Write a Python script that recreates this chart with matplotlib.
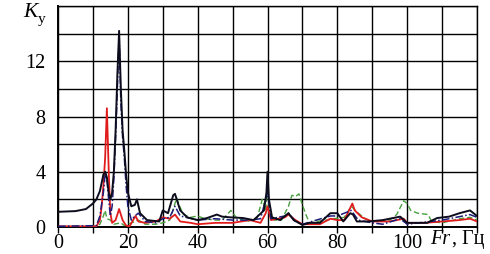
import matplotlib
matplotlib.use("Agg")
import matplotlib.pyplot as plt

# ---- data ----
black_f = [0, 5, 8, 9, 10, 11, 12, 12.5, 13, 13.5, 14, 14.5, 15, 15.5, 16, 16.5, 17, 17.5, 18, 18.5,
           19, 19.5, 20, 21, 22, 22.6, 23.5, 25.5, 29, 30, 31.5, 33, 33.5, 35, 37, 40, 42.7, 45.5, 47,
           49.3, 53, 56, 59, 59.7, 60, 60.4, 61.3, 63.6, 66, 67.5, 70, 72, 75, 78, 80, 81.7, 83.7,
           84.5, 85.6, 89, 93, 98, 100, 105.7, 108.6, 112, 115, 118, 119.5, 120]
black_k = [1.1, 1.15, 1.3, 1.5, 1.7, 2.0, 2.6, 3.2, 3.8, 4.0, 3.6, 2.5, 2.0, 2.5, 4.0, 7.0, 11.0, 14.2, 10.0, 7.0,
           5.5, 3.8, 2.5, 1.5, 1.6, 2.0, 1.0, 0.5, 0.4, 1.2, 1.0, 2.3, 2.4, 1.2, 0.7, 0.5, 0.65, 0.9, 0.75,
           0.7, 0.65, 0.5, 1.2, 2.5, 4.0, 2.0, 0.7, 0.5, 1.0, 0.5, 0.15, 0.3, 0.3, 1.0, 1.0, 0.4, 1.0,
           0.9, 0.4, 0.4, 0.5, 0.75, 0.3, 0.3, 0.65, 0.75, 1.0, 1.2, 0.9, 0.8]

blue_f = [0, 11, 12, 13, 13.5, 14, 14.5, 15, 15.5, 16, 16.5, 17, 17.5, 18, 18.5, 19, 19.5, 20, 21, 22, 23,
          25, 28, 30, 32, 33.5, 35, 40, 45, 50, 55, 58, 60, 61, 65, 66, 68, 70, 78, 80, 84, 86, 90, 93,
          98, 100, 110, 118, 120]
blue_k = [0.05, 0.1, 0.8, 2.5, 3.8, 3.5, 2.0, 0.8, 1.5, 3.5, 6.5, 10.0, 14.0, 9.0, 6.5, 5.0, 3.0, 1.5, 0.5, 0.8, 1.0,
          0.4, 0.3, 0.6, 0.7, 1.5, 0.8, 0.5, 0.6, 0.5, 0.5, 0.6, 2.5, 0.6, 0.8, 1.0, 0.4, 0.2, 0.8, 0.8, 1.2, 0.5, 0.3, 0.2,
          0.6, 0.2, 0.5, 0.9, 0.7]

red_f = [0, 11, 12, 12.5, 13, 13.5, 14, 14.3, 14.6, 15, 15.5, 16.5, 17.5, 18.5, 19.5, 20.5, 21.5, 22.2, 23, 25,
         28, 30, 32, 33.5, 35, 38, 40, 45, 50, 55, 58, 59.5, 60, 61, 63, 65, 66, 68, 70, 75, 78, 80, 82, 84.3,
         85, 87, 90, 95, 99, 100, 105, 110, 115, 118, 120]
red_k = [0.05, 0.05, 0.5, 1.5, 3.0, 5.0, 8.6, 6.0, 3.5, 1.0, 0.3, 0.5, 1.3, 0.5, 0.1, 0.05, 0.5, 0.8, 0.4, 0.3,
         0.4, 0.7, 0.6, 0.9, 0.4, 0.3, 0.2, 0.3, 0.3, 0.5, 0.3, 1.0, 1.5, 0.5, 0.6, 0.7, 0.9, 0.5, 0.2, 0.2, 0.6, 0.5, 0.5, 1.7,
         1.2, 0.7, 0.4, 0.4, 0.6, 0.3, 0.3, 0.4, 0.5, 0.6, 0.4]

green_f = [0, 11, 12, 13, 13.5, 14, 15, 16, 18, 19, 21, 23, 25, 28, 30, 32, 34, 35, 36, 38, 40, 42, 45, 47,
           49.5, 51, 54, 57, 58.5, 59.5, 60, 60.7, 62, 64, 66, 67, 68, 69, 70, 71, 72, 74, 77, 79, 82, 84,
           86, 88, 90, 95, 97, 99, 100, 101, 103, 106, 107, 110, 115, 118, 120]
green_k = [0, 0, 0.2, 0.8, 1.2, 0.6, 0.5, 0.2, 0.3, 0.1, 0.3, 0.5, 0.2, 0.2, 0.3, 0.5, 2.1, 1.4, 0.9, 0.7, 0.8, 0.6, 0.5, 0.5,
           1.2, 0.7, 0.4, 0.6, 2.0, 1.2, 3.0, 0.8, 0.5, 0.5, 1.5, 2.3, 2.2, 2.4, 1.6, 0.9, 0.3, 0.4, 0.5, 0.6, 0.7, 1.5,
           1.0, 0.6, 0.4, 0.5, 0.9, 1.9, 1.7, 1.2, 1.0, 0.9, 0.4, 0.3, 0.6, 0.7, 0.5]

x_ticks = [0, 20, 40, 60, 80, 100]
y_ticks = [0, 4, 8, 12]

# ---- figure ----
serif = "Liberation Serif"
fig = plt.figure(figsize=(4.9, 2.54), dpi=100)
ax = fig.add_axes([58 / 490, 27 / 254, 419 / 490, 221 / 254])

ax.plot(green_f, green_k, color="#4aa040", lw=1.0, ls=(0, (4, 2)), zorder=3)
ax.plot(red_f, red_k, color="#e01c1c", lw=1.3, zorder=4)
ax.plot(blue_f, blue_k, color="#1c1c7a", lw=1.1, ls=(0, (5, 1.5, 1, 1.5)), zorder=5)
ax.plot(black_f, black_k, color="#0c0c1c", lw=1.4, zorder=6)

ax.set_xlim(0, 120)
ax.set_ylim(0, 16)
ax.set_xticks(range(0, 121, 10))
ax.set_yticks(range(0, 17, 2))
ax.grid(True, color="black", lw=1.0)
ax.set_axisbelow(True)

ax.set_xticklabels([str(v) if v in x_ticks else "" for v in range(0, 121, 10)],
                   fontfamily=serif, fontsize=14.5)
ax.set_yticklabels([str(v) if v in y_ticks else "" for v in range(0, 17, 2)],
                   fontfamily=serif, fontsize=14.5)
ax.tick_params(axis="x", direction="out", length=4, width=1.0, pad=1)
ax.tick_params(axis="y", length=0, pad=9)
for s in ax.spines.values():
    s.set_color("black")
    s.set_linewidth(1.0)
ax.spines["left"].set_linewidth(1.4)
ax.spines["bottom"].set_linewidth(1.4)

t_fr = fig.text(430 / 490, 1 - 244 / 254, "Fr", fontfamily=serif, fontstyle="italic", fontsize=14.5,
                va="baseline", ha="left")
ax.annotate(", Гц", xy=(1, 0), xycoords=t_fr, xytext=(1, 0), textcoords="offset points",
            fontfamily=serif, fontsize=14.5, va="bottom", ha="left", annotation_clip=False)

t_k = fig.text(23 / 490, 1 - 17 / 254, "K", fontfamily=serif, fontstyle="italic", fontsize=15.5,
               va="baseline", ha="left")
ax.annotate("у", xy=(1, 0), xycoords=t_k, xytext=(0.5, -3), textcoords="offset points",
            fontfamily=serif, fontsize=11, va="bottom", ha="left", annotation_clip=False)

fig.savefig("out.png", dpi=100)
